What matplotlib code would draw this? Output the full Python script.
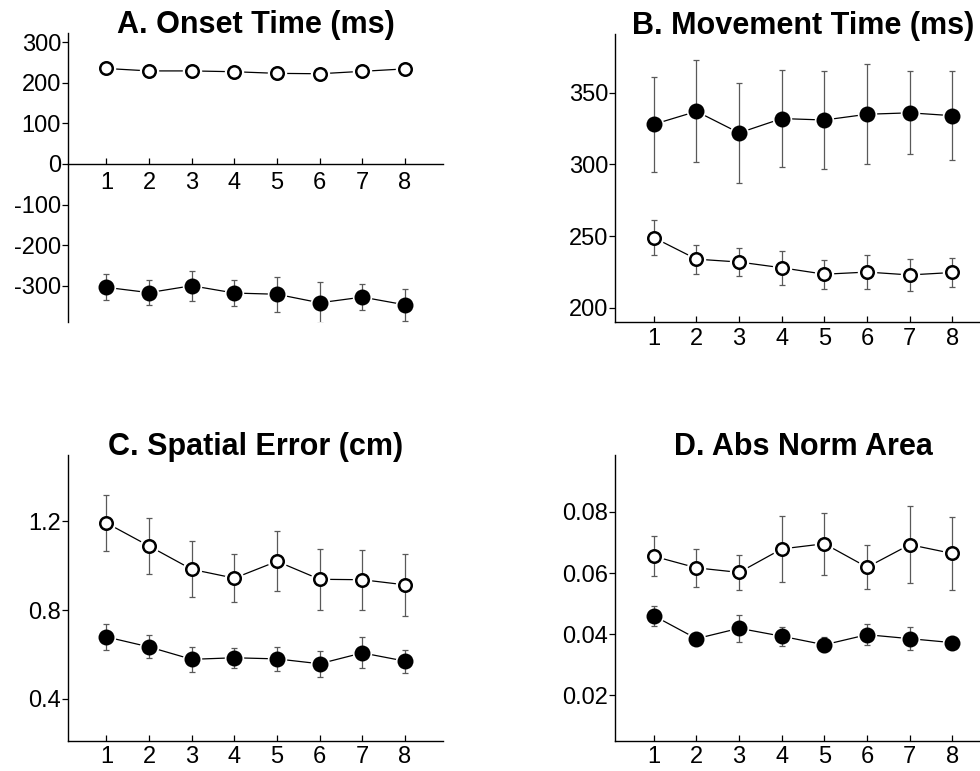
import numpy as np
import matplotlib.pyplot as plt

plt.rcParams['font.family'] = ['Liberation Sans', 'DejaVu Sans']

trials = [1, 2, 3, 4, 5, 6, 7, 8]

# A. onset time (ms)
onset_open = [235, 229, 229, 227, 223, 222, 228, 234]
onset_filled = [-304, -317, -300, -318, -321, -342, -328, -347]
onset_filled_err = [32, 30, 37, 31, 43, 50, 32, 39]

# B. movement time (ms)
move_open = [249, 234, 232, 228, 223.5, 225, 223, 224.7]
move_open_err = [12, 10, 10, 12, 10, 12, 11, 10]
move_filled = [328, 337, 322, 332, 331, 335, 336, 334]
move_filled_err = [33, 35.5, 35, 34, 34, 35, 29, 31]

# C. spatial error (cm)
spat_open = [1.193, 1.089, 0.984, 0.944, 1.020, 0.939, 0.937, 0.914]
spat_open_err = [0.126, 0.126, 0.127, 0.108, 0.135, 0.137, 0.135, 0.14]
spat_filled = [0.679, 0.634, 0.578, 0.585, 0.580, 0.558, 0.607, 0.570]
spat_filled_err = [0.059, 0.052, 0.055, 0.044, 0.053, 0.058, 0.070, 0.052]

# D. abs norm area
area_open = [0.0655, 0.0617, 0.0602, 0.0679, 0.0696, 0.0619, 0.0693, 0.0664]
area_open_err = [0.0066, 0.0062, 0.0058, 0.0107, 0.0101, 0.0072, 0.0126, 0.0121]
area_filled = [0.0460, 0.0385, 0.0419, 0.0393, 0.0365, 0.0398, 0.0385, 0.0372]
area_filled_err = [0.0033, 0.0010, 0.0045, 0.0031, 0.0025, 0.0035, 0.0037, 0.0010]


def series(ax, y, err, filled):
    ax.plot(trials, y, color='black', lw=0.9, zorder=1)
    # white halo so the line stops short of the markers
    ax.plot(trials, y, 'o', ms=14, mfc='white', mec='none', zorder=2)
    if err is not None:
        ax.errorbar(trials, y, yerr=err, fmt='none', ecolor='0.35',
                    elinewidth=0.9, capsize=2.5, capthick=0.9, zorder=3)
    if filled:
        ax.plot(trials, y, 'o', ms=11.5, mfc='black', mec='black', mew=0, zorder=4)
    else:
        ax.plot(trials, y, 'o', ms=9, mfc='white', mec='black', mew=1.8, zorder=4)


def style(ax, title, yt, ytl, ylim, xpad=4):
    ax.set_xlim(0.1, 8.9)
    ax.set_ylim(*ylim)
    ax.set_xticks(trials)
    ax.set_xticklabels([str(t) for t in trials], fontsize=17)
    ax.set_yticks(yt)
    ax.set_yticklabels(ytl, fontsize=17)
    ax.spines['top'].set_visible(False)
    ax.spines['right'].set_visible(False)
    for s in ('left', 'bottom'):
        ax.spines[s].set_linewidth(1.0)
    ax.tick_params(axis='x', direction='in', length=4, width=0.9, pad=xpad)
    ax.tick_params(axis='y', direction='out', length=4, width=0.9, pad=1)
    # title baseline sits on the top of the y axis
    ax.text(0.5, 1.0, title, transform=ax.transAxes, ha='center', va='baseline',
            fontsize=22, fontweight='bold')


fig = plt.figure(figsize=(9.8, 7.71), dpi=100)

axA = fig.add_axes([0.0694, 0.582, 0.383, 0.375])
axA.spines['bottom'].set_position(('data', 0))
series(axA, onset_open, None, False)
series(axA, onset_filled, onset_filled_err, True)
style(axA, 'A. Onset Time (ms)', [300, 200, 100, 0, -100, -200, -300],
      ['300', '200', '100', '0', '-100', '-200', '-300'], (-390, 322), xpad=6)

axB = fig.add_axes([0.628, 0.582, 0.383, 0.374])
series(axB, move_open, move_open_err, False)
series(axB, move_filled, move_filled_err, True)
style(axB, 'B. Movement Time (ms)', [200, 250, 300, 350],
      ['200', '250', '300', '350'], (190, 391))

axC = fig.add_axes([0.0694, 0.039, 0.383, 0.371])
series(axC, spat_open, spat_open_err, False)
series(axC, spat_filled, spat_filled_err, True)
style(axC, 'C. Spatial Error (cm)', [0.4, 0.8, 1.2], ['0.4', '0.8', '1.2'], (0.21, 1.5))

axD = fig.add_axes([0.628, 0.039, 0.383, 0.371])
series(axD, area_open, area_open_err, False)
series(axD, area_filled, area_filled_err, True)
style(axD, 'D. Abs Norm Area', [0.02, 0.04, 0.06, 0.08],
      ['0.02', '0.04', '0.06', '0.08'], (0.005, 0.0987))

fig.savefig('out.png', dpi=100)
